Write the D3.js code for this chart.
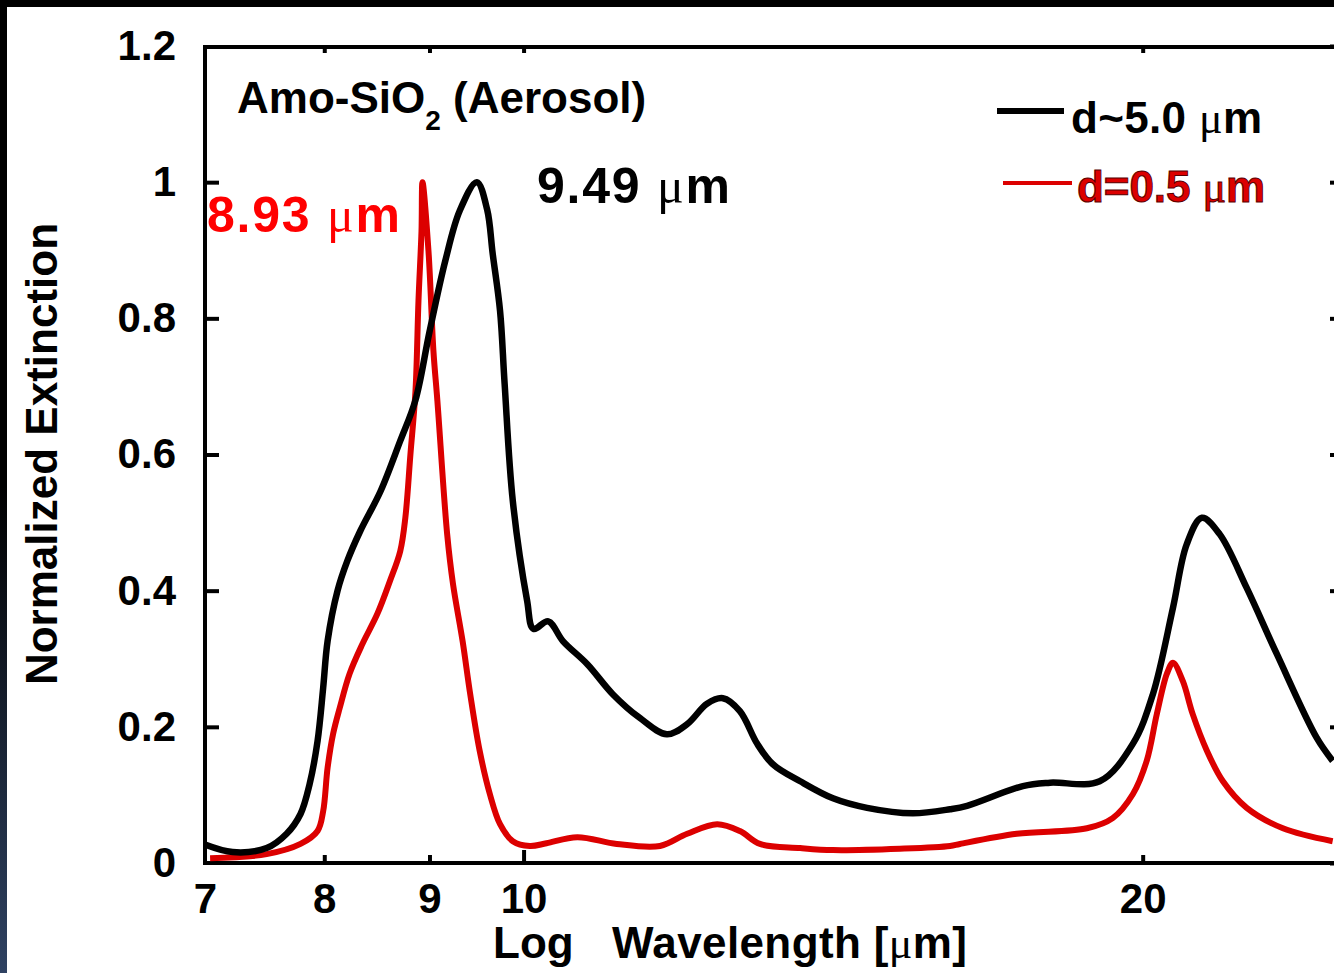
<!DOCTYPE html>
<html>
<head>
<meta charset="utf-8">
<script src="https://cdn.jsdelivr.net/npm/d3@7"></script>
<style>
  html, body { margin: 0; padding: 0; background: #fff; }
  svg { display: block; }
</style>
</head>
<body>
<div id="chart"></div>
<script>
// Values (wavelength in um, normalized extinction)
const blackWavelengths = [7.00, 7.22, 7.50, 7.67, 7.79, 7.87, 7.94, 7.99, 8.03, 8.12, 8.21, 8.33, 8.52, 8.71, 8.86, 9.00, 9.16, 9.31, 9.49, 9.60, 9.66, 9.74, 9.79, 9.88, 10.04, 10.11, 10.28, 10.45, 10.74, 11.05, 11.39, 11.74, 12.01, 12.28, 12.50, 12.74, 12.99, 13.22, 13.63, 14.14, 14.69, 15.46, 16.12, 16.43, 17.49, 18.03, 19.06, 19.78, 20.23, 20.69, 21.01, 21.37, 21.80, 22.47, 23.24, 24.30, 24.74];
const blackExtinction = [0.027, 0.016, 0.022, 0.043, 0.072, 0.116, 0.179, 0.257, 0.326, 0.40, 0.444, 0.488, 0.546, 0.62, 0.68, 0.78, 0.884, 0.958, 1.0, 0.96, 0.895, 0.811, 0.704, 0.532, 0.385, 0.344, 0.355, 0.326, 0.292, 0.248, 0.213, 0.189, 0.204, 0.234, 0.242, 0.223, 0.175, 0.145, 0.120, 0.095, 0.081, 0.073, 0.079, 0.084, 0.113, 0.118, 0.120, 0.175, 0.248, 0.375, 0.468, 0.507, 0.483, 0.404, 0.307, 0.184, 0.150];

const redWavelengths = [7.04, 7.50, 7.79, 7.94, 7.99, 8.03, 8.08, 8.14, 8.23, 8.35, 8.49, 8.61, 8.71, 8.76, 8.81, 8.86, 8.89, 8.92, 8.93, 8.99, 9.04, 9.08, 9.18, 9.24, 9.34, 9.42, 9.52, 9.63, 9.74, 9.88, 10.07, 10.26, 10.62, 11.10, 11.65, 12.01, 12.42, 12.74, 13.03, 13.63, 14.14, 15.24, 16.12, 16.30, 17.37, 18.79, 19.34, 19.78, 20.09, 20.32, 20.55, 20.69, 20.92, 21.15, 21.49, 21.88, 22.47, 23.40, 24.74];
const redExtinction = [0.007, 0.013, 0.028, 0.047, 0.076, 0.14, 0.19, 0.228, 0.278, 0.322, 0.366, 0.414, 0.458, 0.507, 0.60, 0.693, 0.826, 0.928, 1.0, 0.899, 0.752, 0.679, 0.483, 0.41, 0.326, 0.248, 0.165, 0.101, 0.057, 0.032, 0.025, 0.029, 0.038, 0.028, 0.025, 0.043, 0.057, 0.047, 0.028, 0.022, 0.019, 0.021, 0.025, 0.028, 0.043, 0.051, 0.066, 0.101, 0.150, 0.219, 0.278, 0.294, 0.267, 0.219, 0.165, 0.120, 0.081, 0.051, 0.032];

const xTicks = [7, 8, 9, 10, 20];
const yTicks = [0, 0.2, 0.4, 0.6, 0.8, 1, 1.2];
const legendLabels = ['d~5.0 ', 'd=0.5 '];

const width = 1334;
const height = 973;
const redColor = '#dc0000';
const font = '"Liberation Sans", Arial, sans-serif';

const svg = d3.select('#chart').append('svg')
  .attr('width', width)
  .attr('height', height)
  .style('font-family', font)
  .style('font-weight', 'bold');

const x = d3.scaleLog().domain([7, 25]).range([205, 1342]);
const y = d3.scaleLinear().domain([0, 1.2]).range([863, 46]);

// Outer slide border (black top, fading to navy on the left)
const defs = svg.append('defs');
const grad = defs.append('linearGradient')
  .attr('id', 'edge').attr('x1', 0).attr('y1', 0).attr('x2', 0).attr('y2', 1);
grad.append('stop').attr('offset', '0.5').attr('stop-color', '#000');
grad.append('stop').attr('offset', '1').attr('stop-color', '#2f4262');
defs.append('clipPath').attr('id', 'plot-clip')
  .append('rect').attr('x', 205).attr('y', 46).attr('width', 1137).attr('height', 817);

svg.append('rect').attr('x', 0).attr('y', 0).attr('width', 7).attr('height', height)
  .attr('fill', 'url(#edge)');
svg.append('rect').attr('x', 0).attr('y', 0).attr('width', width).attr('height', 7)
  .attr('fill', '#000');

// Axes (ticks point inward, no labels on top/right)
const styleAxis = (g) => {
  g.select('.domain').remove();
  g.selectAll('.tick line').attr('stroke', '#000').attr('stroke-width', 4);
  g.selectAll('.tick text')
    .attr('fill', '#000')
    .style('font-size', '42px')
    .style('font-family', font)
    .style('font-weight', 'bold');
};

const xAxis = svg.append('g')
  .attr('transform', 'translate(0,863)')
  .call(d3.axisBottom(x).tickValues(xTicks).tickFormat(d3.format('d'))
    .tickSizeInner(-8).tickSizeOuter(0).tickPadding(20))
  .call(styleAxis);
xAxis.selectAll('.tick line').attr('y2', (d) => (d === 10 ? -13 : d === 7 ? 0 : -8));

svg.append('g')
  .attr('transform', 'translate(0,47)')
  .call(d3.axisTop(x).tickValues(xTicks.slice(1)).tickFormat('')
    .tickSizeInner(-6).tickSizeOuter(0))
  .call(styleAxis);

svg.append('g')
  .attr('transform', 'translate(205,0)')
  .call(d3.axisLeft(y).tickValues(yTicks).tickFormat((d) => d)
    .tickSizeInner(-14).tickSizeOuter(0).tickPadding(29))
  .call(styleAxis)
  .call((g) => g.selectAll('.tick line').attr('x2', (d) => (d === 0 || d === 1.2 ? 0 : 14)));

svg.append('g')
  .attr('transform', 'translate(1342,0)')
  .call(d3.axisRight(y).tickValues(yTicks).tickFormat('')
    .tickSizeInner(-12).tickSizeOuter(0))
  .call(styleAxis);

// Plot frame
svg.append('rect')
  .attr('x', 205).attr('y', 47).attr('width', 1137).attr('height', 816)
  .attr('fill', 'none').attr('stroke', '#000').attr('stroke-width', 4);

// Curves
const line = d3.line()
  .x((d) => x(d[0]))
  .y((d) => y(d[1]))
  .curve(d3.curveCatmullRom.alpha(0.5));

const curves = svg.append('g').attr('clip-path', 'url(#plot-clip)');
curves.append('path')
  .datum(d3.zip(redWavelengths, redExtinction))
  .attr('d', line)
  .attr('fill', 'none')
  .attr('stroke', redColor)
  .attr('stroke-width', 6)
  .attr('stroke-linejoin', 'round');
curves.append('path')
  .datum(d3.zip(blackWavelengths, blackExtinction))
  .attr('d', line)
  .attr('fill', 'none')
  .attr('stroke', '#000')
  .attr('stroke-width', 6.5)
  .attr('stroke-linejoin', 'round');

// Mu glyph in a symbol-like serif face
const addMu = (t) => {
  t.append('tspan').style('font-family', '"Liberation Serif", serif').style('font-weight', 'normal').text('\u03bc');
  t.append('tspan').text('m');
};

// Axis titles
svg.append('text')
  .attr('transform', 'translate(57,454) rotate(-90)')
  .attr('text-anchor', 'middle')
  .style('font-size', '44px')
  .text('Normalized Extinction');

svg.append('text').attr('x', 493).attr('y', 958).style('font-size', '44px').text('Log');
svg.append('text').attr('x', 612).attr('y', 958).style('font-size', '44px')
  .attr('textLength', 355).attr('lengthAdjust', 'spacing')
  .call((t) => {
    t.append('tspan').text('Wavelength [');
    addMu(t);
    t.append('tspan').text(']');
  });

// Sample title
const title = svg.append('text').attr('x', 237).attr('y', 113).style('font-size', '44px');
title.append('tspan').text('Amo-SiO');
title.append('tspan').attr('dy', 17).style('font-size', '28px').text('2');
title.append('tspan').attr('dy', -17).text(' (Aerosol)');

// Peak annotations
svg.append('text').attr('x', 207).attr('y', 232).style('font-size', '50px').attr('fill', '#ff0000')
  .attr('textLength', 193).attr('lengthAdjust', 'spacing')
  .call((t) => { t.append('tspan').text('8.93 '); addMu(t); });
svg.append('text').attr('x', 537).attr('y', 203).style('font-size', '50px').attr('fill', '#000')
  .attr('textLength', 193).attr('lengthAdjust', 'spacing')
  .call((t) => { t.append('tspan').text('9.49 '); addMu(t); });

// Legend
const legend = [
  { label: legendLabels[0], color: '#000', x1: 997, x2: 1064, ly: 111, tx: 1071, ty: 133, w: 6, len: 191 },
  { label: legendLabels[1], color: redColor, x1: 1003, x2: 1072, ly: 183, tx: 1077, ty: 202, w: 4, len: 188 },
];
legend.forEach((d, i) => {
  svg.append('line')
    .attr('x1', d.x1).attr('x2', d.x2).attr('y1', d.ly).attr('y2', d.ly)
    .attr('stroke', d.color).attr('stroke-width', d.w);
  const t = svg.append('text').attr('x', d.tx).attr('y', d.ty)
    .attr('textLength', d.len).attr('lengthAdjust', 'spacing')
    .style('font-size', '44px').attr('fill', d.color);
  if (i === 1) t.attr('stroke', '#5a0000').attr('stroke-width', 1);
  t.append('tspan').text(d.label);
  addMu(t);
});
</script>
</body>
</html>
